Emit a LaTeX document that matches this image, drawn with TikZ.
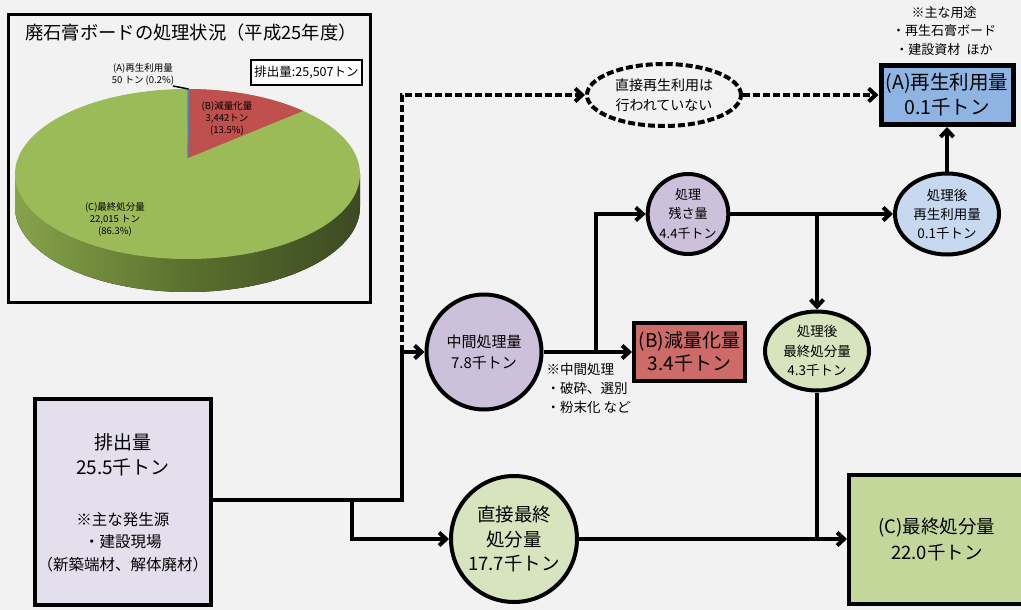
\documentclass[tikz,border=0pt]{standalone}
\usepackage{fontspec}
\setmainfont{Noto Sans CJK JP}
\usetikzlibrary{shapes.geometric,arrows.meta}
\definecolor{bg}{HTML}{F2F2F2}
\definecolor{srcfill}{HTML}{E4DFEC}
\definecolor{purp}{HTML}{CCC0DA}
\definecolor{redfill}{HTML}{CD6B69}
\definecolor{recyfill}{HTML}{8DB4E2}
\definecolor{lightblue}{HTML}{C6D9F1}
\definecolor{lightgreen}{HTML}{D7E4BD}
\definecolor{cfill}{HTML}{C4D79B}
\definecolor{piegreen}{HTML}{9BBB59}
\definecolor{piered}{HTML}{C0504D}
\definecolor{pieblue}{HTML}{4F81BD}
\definecolor{sidelight}{HTML}{86A34A}
\definecolor{sidemid}{HTML}{5A702E}
\definecolor{sidedark}{HTML}{3C4A22}
\begin{document}
\begin{tikzpicture}[x=1pt,y=-1pt,
  flow/.style={line width=4pt,-{Straight Barb[length=7pt,width=13pt]}},
  dashflow/.style={flow,dash pattern=on 7pt off 3pt},
  box/.style={draw,rectangle,line width=4pt,align=center,inner sep=0pt},
  oval/.style={draw,ellipse,line width=4pt,align=center,inner sep=0pt},
  round/.style={draw,circle,line width=4pt,align=center,inner sep=0pt},
  pielabel/.style={align=center,font=\fontsize{9.5}{12}\selectfont}]
\path[use as bounding box,fill=bg] (0,0) rectangle (1021,610);

\node[draw,line width=2.5pt,minimum width=362,minimum height=288,inner sep=0pt] (chart) at (189.5,158.5) {};
\node[font=\fontsize{18.3}{22}\selectfont] (charttitle) at (191,33) {廃石膏ボードの処理状況（平成25年度）};
\fill[left color=sidelight,right color=sidedark,middle color=sidemid] (15,174) -- (15,207) arc[start angle=180,end angle=0,x radius=172.5,y radius=85] -- (360,174) -- cycle;
\fill[piegreen] (187.5,174) ellipse[x radius=172.5,y radius=85];
\fill[piered] (188,158) -- (187.5,89) arc[start angle=-90,end angle=-47.9,x radius=172.5,y radius=85] -- cycle;
\draw[pieblue,line width=1.2pt] (188,158) -- (188.5,89);
\coordinate (pietop) at (188.5,89);
\node[pielabel] (laba) at (143,74.5) {(A)再生利用量\\50 トン (0.2\%)};
\node[pielabel] (labb) at (227,118.5) {(B)減量化量\\3,442トン\\(13.5\%)};
\node[pielabel] (labc) at (115,219) {(C)最終処分量\\22,015 トン\\(86.3\%)};
\draw[line width=1.5pt] (173,86) -- (pietop);
\node[draw,line width=2pt,fill=white,minimum width=111,minimum height=25,inner sep=0pt,font=\fontsize{12.5}{15}\selectfont] (total) at (306.5,72.5) {排出量:25,507トン};

\node[box,fill=srcfill,minimum width=176,minimum height=206] (src) at (123,502) {};
\node[align=center,font=\fontsize{19}{25}\selectfont] (srcamount) at (123,455) {排出量\\25.5千トン};
\node[align=center,font=\fontsize{15.5}{22.5}\selectfont] (srcnote) at (123,542) {※主な発生源\\・建設現場\\（新築端材、解体廃材）};

\node[round,fill=purp,minimum size=115,font=\fontsize{15}{21}\selectfont] (mid) at (484,352) {中間処理量\\7.8千トン};
\node[align=left,anchor=west,font=\fontsize{13.5}{19}\selectfont] (midnote) at (543,388) {※中間処理\\・破砕、選別\\・粉末化 など};
\node[box,fill=redfill,minimum width=111,minimum height=58,font=\fontsize{19}{23}\selectfont] (redu) at (689.5,352) {(B)減量化量\\3.4千トン};
\node[oval,fill=purp,minimum width=78,minimum height=80,font=\fontsize{13}{19.5}\selectfont] (resid) at (688,214) {処理\\残さ量\\4.4千トン};
\node[oval,fill=lightblue,minimum width=104,minimum height=81,font=\fontsize{13.5}{19}\selectfont] (arec) at (947,214) {処理後\\再生利用量\\0.1千トン};
\node[oval,fill=lightgreen,minimum width=104,minimum height=79,font=\fontsize{13.5}{19.5}\selectfont] (afin) at (817,351) {処理後\\最終処分量\\4.3千トン};
\node[box,line width=5pt,fill=recyfill,minimum width=132,minimum height=59,font=\fontsize{19.5}{25}\selectfont] (recy) at (947,95) {(A)再生利用量\\0.1千トン};
\node[align=center,font=\fontsize{13}{18.5}\selectfont] (usenote) at (944,31) {※主な用途\\・再生石膏ボード\\・建設資材\hspace{0.5em}ほか};
\node[oval,dash pattern=on 7pt off 3pt,minimum width=154,minimum height=62,font=\fontsize{14}{20}\selectfont] (none) at (664,95) {直接再生利用は\\行われていない};
\node[round,fill=lightgreen,minimum size=126,font=\fontsize{18.5}{24.5}\selectfont] (direct) at (514,539) {直接最終\\処分量\\17.7千トン};
\node[box,fill=cfill,minimum width=176,minimum height=129,font=\fontsize{18.5}{26}\selectfont] (final) at (937,539) {(C)最終処分量\\22.0千トン};

\coordinate (j1) at (402,500);
\coordinate (j2) at (352,500);
\coordinate (j3) at (596,352);
\coordinate (j4) at (817,214);
\coordinate (j5) at (817,539);
\draw[line width=4pt] (src.east |- j1) -- (j1) -- (j1 |- mid.west);
\draw[flow] (j1 |- mid.west) -- (mid.west);
\draw[dashflow] (j1 |- mid.west) |- (none.west);
\draw[flow] (j2) |- (direct.west);
\path (mid) edge[flow] (redu);
\draw[flow] (j3) |- (resid.west);
\path (resid) edge[flow] (arec);
\draw[flow] (j4) -- (afin.north);
\path (arec) edge[flow] (recy);
\draw[line width=4pt] (afin.south) -- (j5);
\path (direct) edge[flow] (final);
\path (none) edge[dashflow] (recy);
\end{tikzpicture}
\end{document}
